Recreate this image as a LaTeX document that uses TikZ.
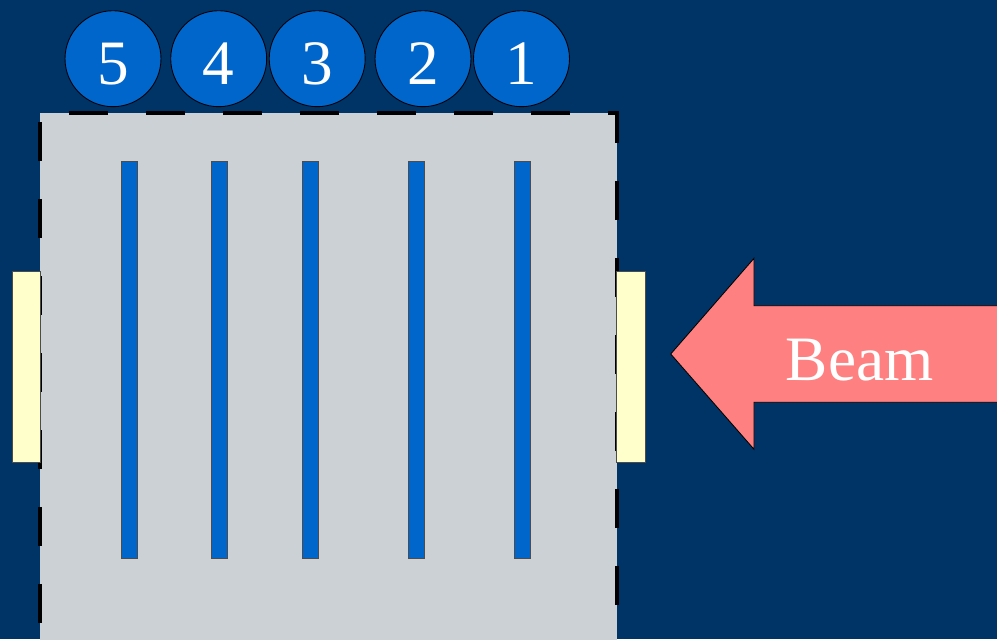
\documentclass[tikz,border=0pt]{standalone}
\usepackage{fontspec}
\setmainfont{Liberation Serif}
\usepackage{xcolor}
\definecolor{bgNavy}{RGB}{0, 51, 102}
\definecolor{chamberGray}{RGB}{204, 209, 214}
\definecolor{foilBlue}{RGB}{0, 102, 204}
\definecolor{windowYellow}{RGB}{255, 255, 204}
\definecolor{beamPink}{RGB}{255, 128, 128}
\usepackage{tikz}
\usetikzlibrary{shapes.geometric, positioning, calc}

\begin{document}
\begin{tikzpicture}[
    x=0.02cm, y=-0.02cm,
    chamber/.style={
        fill=chamberGray, draw=none
    },
    chamberWall/.style={
        draw=black, line width=0.08cm,
        dash pattern=on 0.78cm off 0.76cm, dash phase=1.10cm
    },
    foil/.style={
        fill=foilBlue, draw=black!70, line width=0.4pt
    },
    counter/.style={
        circle, fill=foilBlue, draw=black, line width=0.5pt,
        minimum size=1.92cm, inner sep=0pt,
        text=white, font=\fontsize{36}{40}\selectfont,
        text height=1.04cm, text depth=0pt
    },
    window/.style={
        fill=windowYellow, draw=black!70, line width=0.5pt
    },
    beamArrow/.style={
        fill=beamPink, draw=black, line width=0.5pt
    },
    beamLabel/.style={
        text=white, font=\fontsize{36}{40}\selectfont, inner sep=0pt
    }
]

    % Frame
    \useasboundingbox (0,0) rectangle (997,639);
    \fill[bgNavy] (0,0) rectangle (997,639);
    \clip (0,0) rectangle (997,639);

    % Chamber
    \fill[chamber] (40,113) rectangle (617,645);
    \draw[chamberWall] (40,645) -- (40,113) -- (617,113) -- (617,645);

    % Foils
    \foreach \xl in {121, 211.7, 302.6, 408.2, 514}
        \draw[foil] (\xl,161) rectangle ++(16,397);

    % Windows
    \draw[window] (12,271) rectangle (40.7,462);
    \draw[window] (616.7,271) rectangle (645,462);

    % Counters
    \foreach \cx/\num in {113/5, 218.7/4, 317.2/3, 423/2, 521.5/1}
        \node[counter] (c\num) at (\cx,58.7) {\num};

    % Beam
    \fill[beamPink] (1005,305.7) -- (754,305.7) -- (754,258.3) -- (670.7,354)
        -- (754,449.3) -- (754,402.3) -- (1005,402.3) -- cycle;
    \draw[black, line width=0.5pt] (1005,305.7) -- (754,305.7) -- (754,258.3)
        -- (670.7,354) -- (754,449.3) -- (754,402.3) -- (1005,402.3);
    \node[beamLabel, anchor=base] (beam) at (859.7,380) {Beam};

\end{tikzpicture}
\end{document}
